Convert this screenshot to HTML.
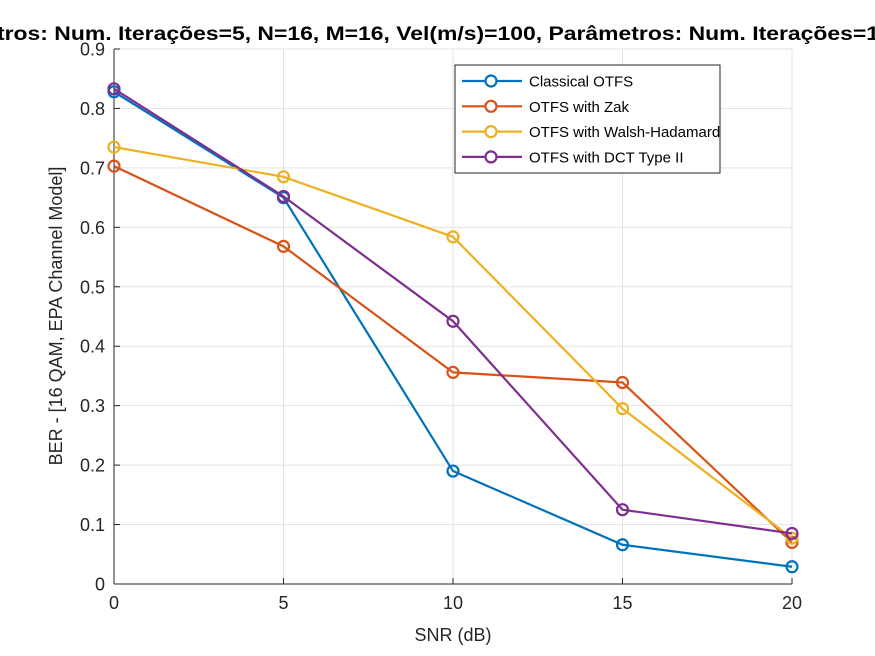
<!DOCTYPE html>
<html><head><meta charset="utf-8"><style>
html,body{margin:0;padding:0;background:#fff;}
svg{display:block;font-family:"Liberation Sans",Arial,sans-serif;}
</style></head><body>
<svg id="chart" width="875" height="656" viewBox="0 0 875 656" xmlns="http://www.w3.org/2000/svg">
<rect x="0" y="0" width="875" height="656" fill="#fff"/>
<g id="grid"></g>
<g id="axes"></g>
<g id="series"></g>
<text x="-3" y="40" font-size="19" font-weight="bold" fill="#000" textLength="882" lengthAdjust="spacingAndGlyphs">tros: Num. Iterações=5, N=16, M=16, Vel(m/s)=100, Parâmetros: Num. Iterações=1</text>
<text x="453" y="641" font-size="18" text-anchor="middle" fill="#262626">SNR (dB)</text>
<text transform="translate(62,316) rotate(-90)" font-size="18" text-anchor="middle" fill="#262626">BER - [16 QAM, EPA Channel Model]</text>
<g id="legend">
<rect x="455" y="65" width="265" height="108" fill="#fff" stroke="#262626" stroke-width="1"/>
</g>
</svg>
<script>
const snr = [0, 5, 10, 15, 20];
const classical = [0.828, 0.650, 0.190, 0.066, 0.029];
const zak = [0.703, 0.568, 0.356, 0.339, 0.070];
const walsh = [0.735, 0.685, 0.584, 0.295, 0.077];
const dct = [0.833, 0.652, 0.442, 0.125, 0.085];
const seriesNames = ["Classical OTFS", "OTFS with Zak", "OTFS with Walsh-Hadamard", "OTFS with DCT Type II"];
const xTicks = [0, 5, 10, 15, 20];
const yTicks = [0, 0.1, 0.2, 0.3, 0.4, 0.5, 0.6, 0.7, 0.8, 0.9];

const NS = "http://www.w3.org/2000/svg";
const X0 = 114, X1 = 792, Y0 = 584, Y1 = 49;
const xs = v => X0 + (v - 0) / 20 * (X1 - X0);
const ys = v => Y0 - v / 0.9 * (Y0 - Y1);
function mk(tag, attrs, parent) {
  const e = document.createElementNS(NS, tag);
  for (const k in attrs) e.setAttribute(k, attrs[k]);
  parent.appendChild(e); return e;
}
const grid = document.getElementById('grid');
const axes = document.getElementById('axes');
xTicks.forEach(t => {
  const l = mk('line', {x1: xs(t), x2: xs(t), y1: Y1, y2: Y0, stroke: '#e3e3e3', 'stroke-width': 1}, grid);
  
  
  const tk = mk('line', {x1: xs(t), x2: xs(t), y1: Y0, y2: Y0 - 6, stroke: '#262626'}, axes);
  
  
  const tx = mk('text', {x: xs(t), y: Y0 + 25, 'font-size': 18, 'text-anchor': 'middle', fill: '#262626'}, axes);
  tx.textContent = String(t);
  
  
});
yTicks.forEach(t => {
  const l = mk('line', {x1: X0, x2: X1, y1: ys(t), y2: ys(t), stroke: '#e3e3e3', 'stroke-width': 1}, grid);
  
  
  const tk = mk('line', {x1: X0, x2: X0 + 6, y1: ys(t), y2: ys(t), stroke: '#262626'}, axes);
  
  
  const tx = mk('text', {x: X0 - 9, y: ys(t) + 6.5, 'font-size': 18, 'text-anchor': 'end', fill: '#262626'}, axes);
  tx.textContent = t === 0 ? '0' : String(t);
  
  
});
const ax1 = mk('line', {x1: X0, x2: X0, y1: Y1, y2: Y0, stroke: '#262626', 'stroke-width': 1}, axes);


const ax2 = mk('line', {x1: X0, x2: X1, y1: Y0, y2: Y0, stroke: '#262626', 'stroke-width': 1}, axes);



const colors = ['#0072BD', '#D95319', '#EDB120', '#7E2F8E'];
const data = [classical, zak, walsh, dct];
const keys = ['classical', 'zak', 'walsh', 'dct'];
const sg = document.getElementById('series');
data.forEach((vals, i) => {
  const g = mk('g', {}, sg);
  
  
  const pts = vals.map((v, j) => xs(snr[j]) + ',' + ys(v)).join(' ');
  const pl = mk('polyline', {points: pts, fill: 'none', stroke: colors[i], 'stroke-width': 2.2}, g);
  
  
  vals.forEach((v, j) => {
    const c = mk('circle', {cx: xs(snr[j]), cy: ys(v), r: 5.5, fill: 'none', stroke: colors[i], 'stroke-width': 2.2}, g);
    
    
  });
});
const lg = document.getElementById('legend');
seriesNames.forEach((n, i) => {
  const y = 81 + i * 25.3;
  const g = mk('g', {}, lg);
  
  
  mk('line', {x1: 462, x2: 522, y1: y, y2: y, stroke: colors[i], 'stroke-width': 2.2}, g);
  mk('circle', {cx: 491, cy: y, r: 5.5, fill: '#fff', stroke: colors[i], 'stroke-width': 2.2}, g);
  const t = mk('text', {x: 529, y: y + 5.5, 'font-size': 15, fill: '#000'}, g);
  t.textContent = n;
});
</script>
</body></html>
